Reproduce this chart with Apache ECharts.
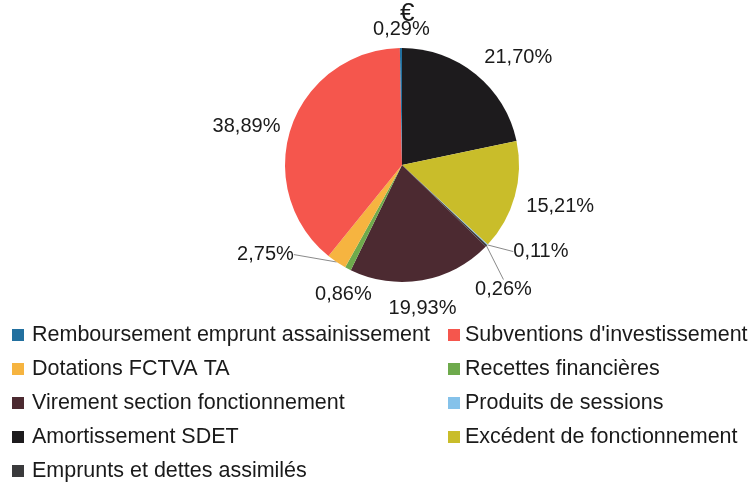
<!DOCTYPE html>
<html>
<head>
<meta charset="utf-8">
<style>
  html, body { margin: 0; padding: 0; background: #fff; }
  .chart { width: 752px; height: 484px; }
</style>
<script src="https://cdn.jsdelivr.net/npm/echarts@6/dist/echarts.min.js"></script>
</head>
<body>
<div class="chart"></div>
<script>
// slices, clockwise from 12 o'clock
var categories = [
    "Amortissement SDET",
    "Excédent de fonctionnement",
    "Produits de sessions",
    "Emprunts et dettes assimilés",
    "Virement section fonctionnement",
    "Recettes financières",
    "Dotations FCTVA TA",
    "Subventions d'investissement",
    "Remboursement emprunt assainissement"
];
var values = [21.70, 15.21, 0.11, 0.26, 19.93, 0.86, 2.75, 38.89, 0.29];
var colors = ["#1d1b1d", "#c9bd2a", "#85c2ea", "#3a3a3c", "#4c2a31", "#6eaa4c", "#f6b440", "#f5564d", "#22709f"];

// legend, two columns
var legendLeft = [
    "Remboursement emprunt assainissement",
    "Dotations FCTVA TA",
    "Virement section fonctionnement",
    "Amortissement SDET",
    "Emprunts et dettes assimilés"
];
var legendRight = [
    "Subventions d'investissement",
    "Recettes financières",
    "Produits de sessions",
    "Excédent de fonctionnement"
];

(function () {
    var myChart = echarts.init(document.querySelector(".chart"));

    var fontFamily = "Liberation Sans, Arial, sans-serif";

    // small slices that get a leader line
    var withLine = { "Produits de sessions": true, "Emprunts et dettes assimilés": true, "Dotations FCTVA TA": true };

    // label nudges (px) from the default outside position, like Excel's placement
    var nudge = {
        "Amortissement SDET": [-9, -1],
        "Excédent de fonctionnement": [-8, 5],
        "Produits de sessions": [9, -7],
        "Emprunts et dettes assimilés": [-5, 9],
        "Virement section fonctionnement": [-42, 6],
        "Recettes financières": [38, -6],
        "Dotations FCTVA TA": [-14, -24],
        "Subventions d'investissement": [8, 6],
        "Remboursement emprunt assainissement": [34, 1]
    };

    var data = categories.map(function (name, i) {
        return {
            name: name,
            value: values[i],
            itemStyle: { color: colors[i] },
            labelLine: { show: !!withLine[name] }
        };
    });

    var legendBase = {
        orient: "vertical",
        icon: "rect",
        padding: 0,
        itemWidth: 12,
        itemHeight: 12,
        itemGap: 12,
        selectedMode: false,
        textStyle: {
            fontFamily: fontFamily,
            fontSize: 21.5,
            color: "#1a1a1a"
        }
    };

    var option = {
        backgroundColor: "#fff",
        animation: false,
        title: {
            text: "€",
            left: 395,
            top: -4,
            textStyle: { fontFamily: fontFamily, fontSize: 26, fontWeight: "normal", color: "#1a1a1a" }
        },
        legend: [
            Object.assign({}, legendBase, {
                left: 12, top: 324, data: legendLeft,
                textStyle: Object.assign({}, legendBase.textStyle, { padding: [0, 0, 0, 3] })
            }),
            Object.assign({}, legendBase, { left: 448, top: 324, data: legendRight })
        ],
        series: [
            {
                type: "pie",
                center: [402, 165],
                radius: 117,
                startAngle: 90,
                clockwise: true,
                data: data,
                label: {
                    show: true,
                    position: "outside",
                    fontFamily: fontFamily,
                    fontSize: 20,
                    color: "#1a1a1a",
                    formatter: function (p) {
                        return p.value.toFixed(2).replace(".", ",") + "%";
                    }
                },
                labelLine: {
                    length: 20,
                    length2: 0,
                    lineStyle: { color: "#8a8a8a", width: 1 }
                },
                labelLayout: function (params) {
                    var d = nudge[categories[params.dataIndex]] || [0, 0];
                    var r = params.labelRect;
                    return {
                        x: r.x + d[0],
                        y: r.y + r.height / 2 + d[1],
                        align: "left",
                        verticalAlign: "middle"
                    };
                }
            }
        ]
    };

    myChart.setOption(option);
    window.addEventListener("resize", function () {
        myChart.resize();
    });
})();
</script>
</body>
</html>
